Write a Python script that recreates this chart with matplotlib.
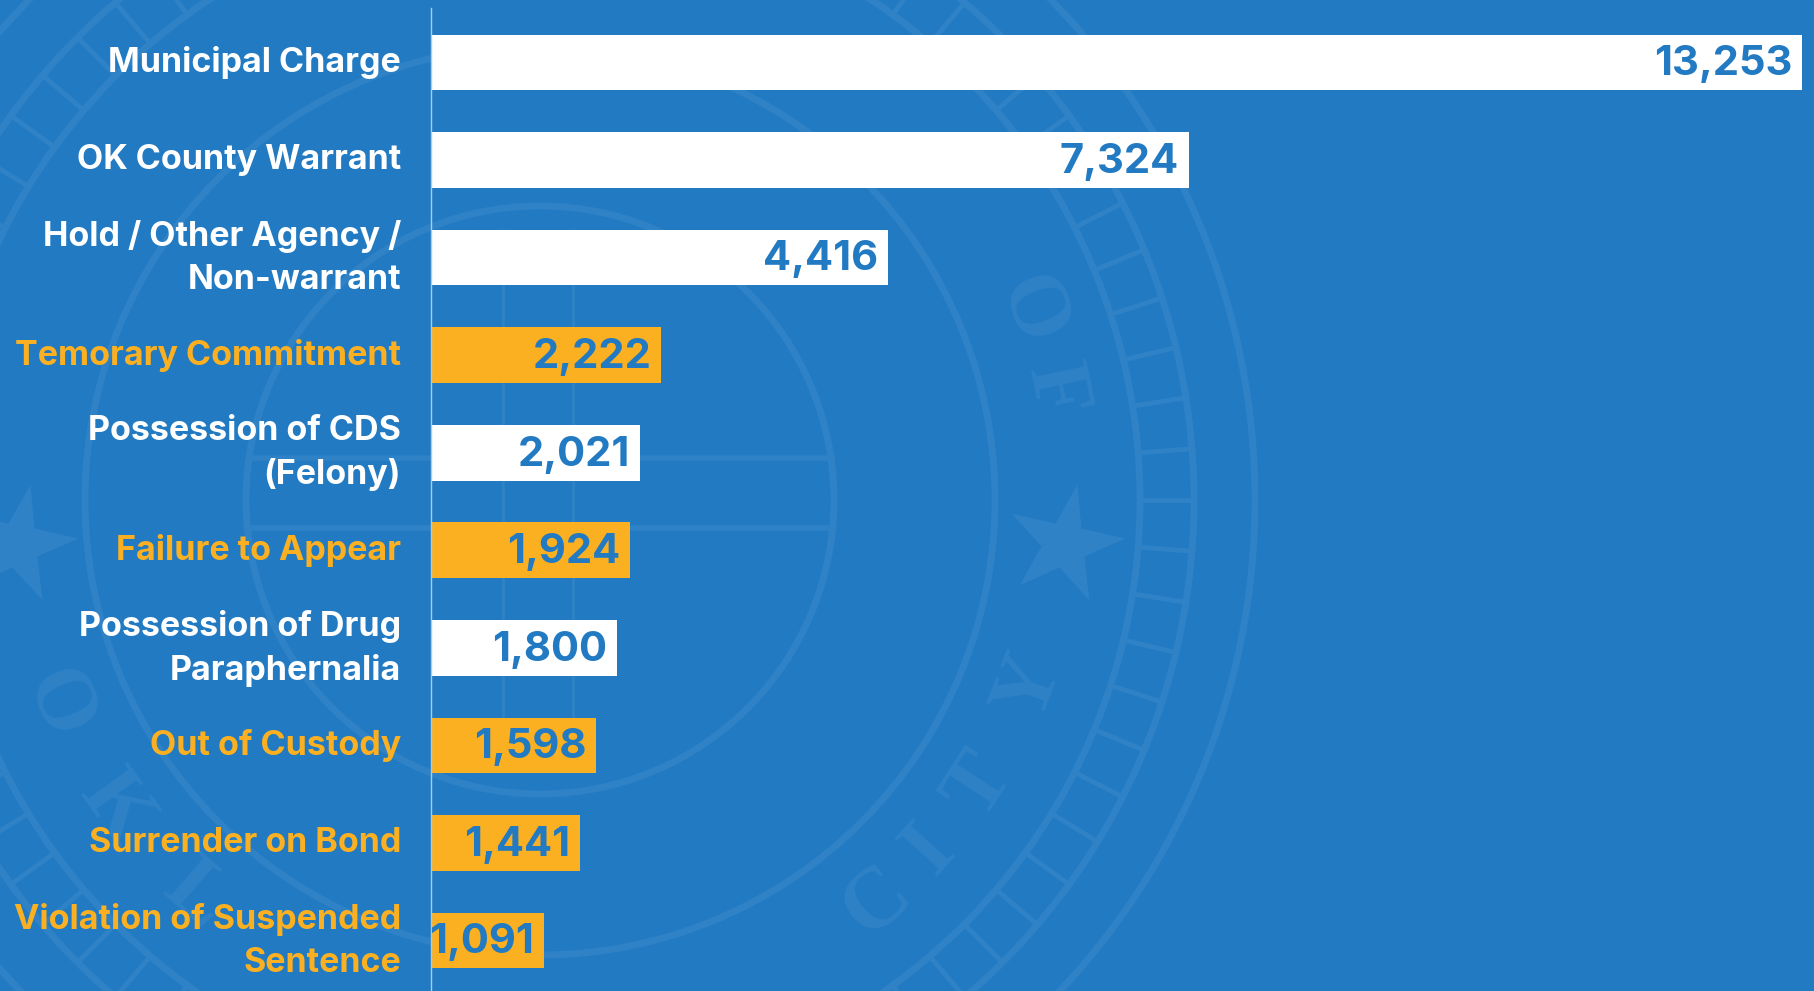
import numpy as np
import matplotlib
matplotlib.use('Agg')
import matplotlib.pyplot as plt
from matplotlib.patches import Circle
from matplotlib.markers import MarkerStyle
from matplotlib.transforms import Affine2D, ScaledTranslation

categories = ['Municipal Charge', 'OK County Warrant', 'Hold / Other Agency /\nNon-warrant', 'Temorary Commitment',
              'Possession of CDS\n(Felony)', 'Failure to Appear', 'Possession of Drug\nParaphernalia',
              'Out of Custody', 'Surrender on Bond', 'Violation of Suspended\nSentence']
values = [13253, 7324, 4416, 2222, 2021, 1924, 1800, 1598, 1441, 1091]
highlighted = [False, False, False, True, False, True, False, True, True, True]

BLUE = '#217AC2'
ORANGE = '#FBB022'
WHITE = '#FFFFFF'
SEAL = '#2F82C6'
W, H = 1814, 991

plt.rcParams['font.family'] = ['Inter', 'DejaVu Sans']
fig = plt.figure(figsize=(W/100, H/100), dpi=100, facecolor=BLUE)

# faint city-seal watermark behind the chart
bg = fig.add_axes([0, 0, 1, 1], zorder=0)
bg.set_xlim(0, W); bg.set_ylim(H, 0); bg.axis('off')
cx, cy = 540, 500
for r, lw in [(715, 5), (654, 5), (600, 5), (455, 5), (294, 5)]:
    bg.add_patch(Circle((cx, cy), r, fill=False, ec=SEAL, lw=lw))
for a in np.arange(0, 360, 4.5):
    t = np.radians(a)
    bg.plot([cx + 600*np.cos(t), cx + 654*np.cos(t)], [cy + 600*np.sin(t), cy + 654*np.sin(t)],
            color=SEAL, lw=3.5, solid_capstyle='butt')
for x in [1064, 17]:
    bg.plot([x], [544], marker=MarkerStyle('*', transform=Affine2D().rotate_deg(-12)),
            ms=88, color=SEAL, mec='none')
for y in [458, 528]:
    bg.plot([250, 832], [y, y], color=SEAL, lw=4)
for x in [503, 573]:
    bg.plot([x, x], [230, 740], color=SEAL, lw=2)
seal_upper = [('O', -21), ('F', -12)]
seal_lower = [('O', 157), ('K', 144), ('L', 131), ('C', 50), ('I', 42), ('T', 33), ('Y', 21)]
for ch, a in seal_upper:
    t = np.radians(a)
    bg.text(cx + 525*np.cos(t), cy + 525*np.sin(t), ch, color=SEAL, fontsize=62, fontweight='bold',
            fontfamily='Liberation Serif', rotation=-(90 + a), ha='center', va='center', rotation_mode='anchor')
for ch, a in seal_lower:
    t = np.radians(a)
    bg.text(cx + 525*np.cos(t), cy + 525*np.sin(t), ch, color=SEAL, fontsize=62, fontweight='bold',
            fontfamily='Liberation Serif', rotation=90 - a, ha='center', va='center', rotation_mode='anchor')

# chart
ax = fig.add_axes([431/W, 0, (1802-431)/W, 1], zorder=1)
ax.patch.set_alpha(0)
ypos = list(range(len(values)))
colors = [ORANGE if h else WHITE for h in highlighted]
ax.barh(ypos, values, height=0.57, color=colors)
ax.set_xlim(0, 13253)
ax.set_ylim(9.517, -0.64)
for s in ['top', 'right', 'bottom']:
    ax.spines[s].set_visible(False)
ax.spines['left'].set_color('#A9CDE8')
ax.spines['left'].set_linewidth(1)
ax.spines['left'].set_bounds(-0.56, 9.517)
ax.xaxis.set_visible(False)
ax.set_yticks(ypos)
ax.set_yticklabels(categories, fontsize=24.5, fontweight='bold', linespacing=1.42, ha='right', multialignment='right')
ax.tick_params(axis='y', length=0, pad=21.5)
for lab, h, name in zip(ax.get_yticklabels(), highlighted, categories):
    lab.set_color(ORANGE if h else WHITE)
    shift = 6.0 if '\n' in name else 2.5
    lab.set_transform(lab.get_transform() + ScaledTranslation(0, shift/72, fig.dpi_scale_trans))
for y, v in zip(ypos, values):
    ax.annotate(f'{v:,}', (v, y), xytext=(-7, 1.5), textcoords='offset points', ha='right', va='center_baseline',
                fontsize=30, fontweight='bold', color=BLUE)
fig.savefig('out.png', dpi=100, facecolor=BLUE)
